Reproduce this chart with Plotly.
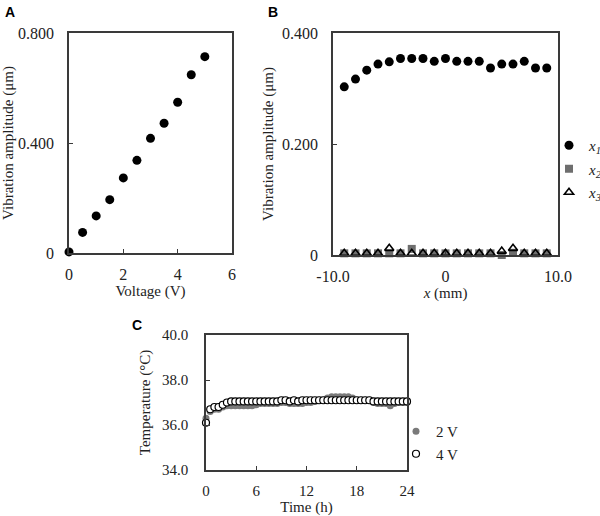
import plotly.graph_objects as go

# Panel A
voltage = [0, 0.5, 1, 1.5, 2, 2.5, 3, 3.5, 4, 4.5, 5]
amp_a = [0.004, 0.075, 0.135, 0.194, 0.273, 0.337, 0.417, 0.472, 0.548, 0.648, 0.714]

# Panel B
pos_x = [-9, -8, -7, -6, -5, -4, -3, -2, -1, 0, 1, 2, 3, 4, 5, 6, 7, 8, 9]
amp_x1 = [0.303, 0.317, 0.333, 0.344, 0.348, 0.354, 0.354, 0.354, 0.349, 0.354,
          0.349, 0.349, 0.349, 0.337, 0.344, 0.344, 0.349, 0.337, 0.337]
amp_x2 = [0.003, 0.003, 0.003, 0.003, 0.003, 0.003, 0.011, 0.003, 0.003, 0.003,
          0.003, 0.003, 0.003, 0.003, 0.000, 0.004, 0.003, 0.003, 0.003]
amp_x3 = [0.003, 0.003, 0.003, 0.003, 0.012, 0.003, 0.003, 0.003, 0.003, 0.003,
          0.003, 0.003, 0.003, 0.003, 0.007, 0.012, 0.003, 0.003, 0.003]

# Panel C
time_h = [0, 0.5, 1, 1.5, 2, 2.5, 3, 3.5, 4, 4.5, 5, 5.5, 6, 6.5, 7, 7.5, 8, 8.5,
          9, 9.5, 10, 10.5, 11, 11.5, 12, 12.5, 13, 13.5, 14, 14.5, 15, 15.5, 16,
          16.5, 17, 17.5, 18, 18.5, 19, 19.5, 20, 20.5, 21, 21.5, 22, 22.5, 23,
          23.5, 24]
temp_2v = [36.3, 36.6, 36.7, 36.7, 36.8, 36.85, 36.85, 36.85, 36.85, 36.85, 36.85, 36.85,
           36.9, 36.95, 36.95, 36.95, 36.95, 36.95, 37.0, 37.0, 36.95, 36.95, 36.95, 36.95,
           37.0, 37.0, 37.05, 37.1, 37.1, 37.2, 37.25, 37.25, 37.25, 37.25, 37.25, 37.2,
           37.1, 37.1, 37.1, 37.1, 37.0, 36.95, 36.95, 36.95, 36.85, 36.95, 37.0, 37.0,
           37.0]
temp_4v = [36.1, 36.7, 36.8, 36.8, 36.9, 37.0, 37.05, 37.05, 37.05, 37.05, 37.05, 37.05,
           37.05, 37.05, 37.05, 37.05, 37.05, 37.05, 37.1, 37.1, 37.05, 37.1, 37.05, 37.1,
           37.1, 37.1, 37.1, 37.1, 37.1, 37.1, 37.1, 37.1, 37.1, 37.1, 37.1, 37.1,
           37.1, 37.1, 37.1, 37.1, 37.05, 37.05, 37.05, 37.05, 37.05, 37.05, 37.05, 37.05,
           37.05]

SERIF = "Liberation Serif, Times New Roman, serif"
AX = "#3a3a3a"
TXT = "#222222"

fig = go.Figure()

fig.add_trace(go.Scatter(x=voltage, y=amp_a, mode="markers", xaxis="x", yaxis="y",
                         marker=dict(symbol="circle", size=9, color="black"),
                         cliponaxis=False, showlegend=False))

fig.add_trace(go.Scatter(x=pos_x, y=amp_x1, mode="markers", xaxis="x2", yaxis="y2",
                         name="<i>x<sub>1</sub></i>", legend="legend", legendgroup="a",
                         marker=dict(symbol="circle", size=9, color="black"),
                         cliponaxis=False))
fig.add_trace(go.Scatter(x=pos_x, y=amp_x2, mode="markers", xaxis="x2", yaxis="y2",
                         name="<i>x<sub>2</sub></i>", legend="legend", legendgroup="b",
                         marker=dict(symbol="square", size=8, color="#6e6e6e"),
                         cliponaxis=False))
fig.add_trace(go.Scatter(x=pos_x, y=amp_x3, mode="markers", xaxis="x2", yaxis="y2",
                         name="<i>x<sub>3</sub></i>", legend="legend", legendgroup="c",
                         marker=dict(symbol="triangle-up-open", size=8, color="black",
                                     line=dict(width=1.6, color="black")),
                         cliponaxis=False))

fig.add_trace(go.Scatter(x=time_h, y=temp_2v, mode="markers", xaxis="x3", yaxis="y3",
                         name="2 V", legend="legend2", legendgroup="d",
                         marker=dict(symbol="circle", size=7, color="#7a7a7a"),
                         cliponaxis=False))
fig.add_trace(go.Scatter(x=time_h, y=temp_4v, mode="markers", xaxis="x3", yaxis="y3",
                         name="4 V", legend="legend2", legendgroup="e",
                         marker=dict(symbol="circle", size=7, color="white",
                                     line=dict(width=1.2, color="black")),
                         cliponaxis=False))

W, H = 600, 516
def dx(a, b):
    return [a / W, b / W]
def dy(top, bottom):
    return [1 - bottom / H, 1 - top / H]

def axstyle(size):
    return dict(showline=True, mirror=True, linecolor=AX, linewidth=1.5,
                ticks="inside", ticklen=4, tickwidth=1.2, tickcolor=AX,
                showgrid=False, zeroline=False, automargin=False,
                tickfont=dict(family=SERIF, size=size, color=TXT))
titlefont = dict(family=SERIF, size=15, color=TXT)

fig.update_layout(
    width=W, height=H, margin=dict(l=0, r=0, t=0, b=0, autoexpand=False),
    paper_bgcolor="white", plot_bgcolor="white",
    xaxis=dict(domain=dx(69, 232), anchor="y", range=[0, 6],
               tickvals=[0, 2, 4, 6], ticktext=["0", "2", "4", "6"], ticklabelstandoff=6,
               title=dict(text="Voltage (V)", font=titlefont, standoff=4), **axstyle(16)),
    yaxis=dict(domain=dy(33, 253), anchor="x", range=[0, 0.8],
               tickvals=[0, 0.4, 0.8], ticktext=["0", "0.400", "0.800"], ticklabelstandoff=10,
               title=dict(text="Vibration amplitude (μm)", font=titlefont, standoff=5),
               **axstyle(16)),
    xaxis2=dict(domain=dx(333, 558), anchor="y2", range=[-10, 10],
                tickvals=[-10, 0, 10], ticktext=["-10.0", "0", "10.0"], ticklabelstandoff=6,
                title=dict(text="<i>x</i> (mm)", font=titlefont, standoff=4), **axstyle(16)),
    yaxis2=dict(domain=dy(33, 255), anchor="x2", range=[0, 0.4],
                tickvals=[0, 0.2, 0.4], ticktext=["0", "0.200", "0.400"], ticklabelstandoff=10,
                title=dict(text="Vibration amplitude (μm)", font=titlefont, standoff=5),
                **axstyle(16)),
    xaxis3=dict(domain=dx(206, 407), anchor="y3", range=[0, 24],
                tickvals=[0, 6, 12, 18, 24], ticklabelstandoff=6,
                title=dict(text="Time (h)", font=titlefont, standoff=2), **axstyle(15)),
    yaxis3=dict(domain=dy(335, 470), anchor="x3", range=[34, 40],
                tickvals=[34, 36, 38, 40], ticktext=["34.0", "36.0", "38.0", "40.0"],
                ticklabelstandoff=13,
                title=dict(text="Temperature (°C)", font=titlefont, standoff=8),
                **axstyle(15)),
    legend=dict(x=549 / W, y=1 - 129 / H, xanchor="left", yanchor="top",
                font=dict(family=SERIF, size=15, color=TXT),
                bgcolor="rgba(0,0,0,0)", tracegroupgap=1),
    legend2=dict(x=396 / W, y=1 - 415 / H, xanchor="left", yanchor="top",
                 font=dict(family=SERIF, size=15, color=TXT),
                 bgcolor="rgba(0,0,0,0)", tracegroupgap=0),
    annotations=[
        dict(text="<b>A</b>", x=3 / W, y=1 - 2 / H, xref="paper", yref="paper",
             xanchor="left", yanchor="top", showarrow=False,
             font=dict(family="Liberation Sans, Arial", size=14, color="black")),
        dict(text="<b>B</b>", x=266 / W, y=1 - 2 / H, xref="paper", yref="paper",
             xanchor="left", yanchor="top", showarrow=False,
             font=dict(family="Liberation Sans, Arial", size=14, color="black")),
        dict(text="<b>C</b>", x=130 / W, y=1 - 315 / H, xref="paper", yref="paper",
             xanchor="left", yanchor="top", showarrow=False,
             font=dict(family="Liberation Sans, Arial", size=14, color="black")),
    ],
)

fig.write_html("out.html", config={"displayModeBar": False},
               post_script="document.body.style.margin='0';")
